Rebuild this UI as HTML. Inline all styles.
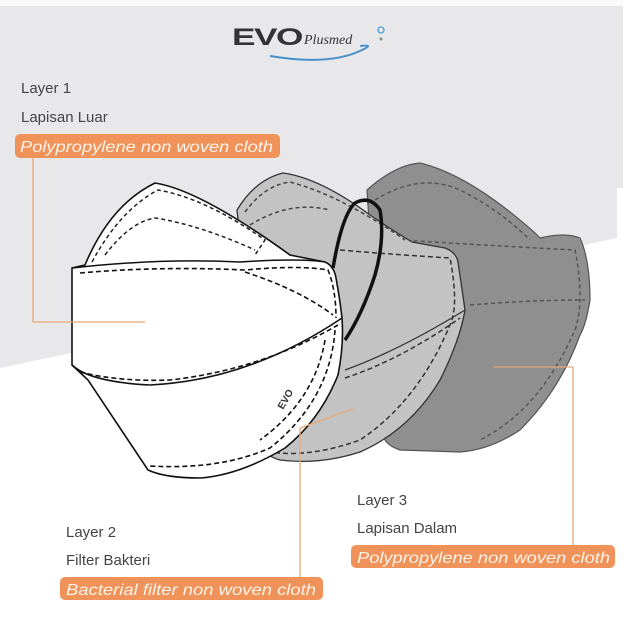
<!DOCTYPE html>
<html><head><meta charset="utf-8"><style>
html,body{margin:0;padding:0;background:#fff;}
svg{display:block;}
text{font-family:"Liberation Sans",sans-serif;}
</style></head><body>
<svg width="623" height="640" viewBox="0 0 623 640" xmlns="http://www.w3.org/2000/svg">
<rect width="623" height="640" fill="#ffffff"/>
<polygon points="0,0 623,0 623,188 617,188 617,238 0,368" fill="#e8e8ea"/>
<rect x="0" y="0" width="623" height="6" fill="#fafafa"/>

<!-- logo -->
<text x="232" y="45" font-size="24" font-weight="bold" fill="#333" letter-spacing="-1" textLength="70" lengthAdjust="spacingAndGlyphs">EVO</text>
<text x="304" y="44" font-size="14" font-style="italic" fill="#333" style="font-family:'Liberation Serif',serif">Plusmed</text>
<circle cx="381" cy="30" r="3" fill="none" stroke="#4aa0d8" stroke-width="1.3"/>
<circle cx="381" cy="39" r="1.5" fill="#888"/>
<path d="M270 56 Q330 66 362 50 Q375 44 360 46" fill="none" stroke="#4a90c8" stroke-width="2"/>

<!-- back dark mask -->
<path d="M367 190 Q395 165 420 163 Q470 175 535 233 L540 238 Q565 232 580 238 Q590 260 590 300 Q586 325 580 335 Q560 390 520 430 Q490 450 460 452 L400 450 Q385 445 383 435 Z" fill="#8f8f8f" stroke="#555" stroke-width="1.2"/>
<path d="M375 200 Q420 172 460 190 Q500 210 530 240" fill="none" stroke="#555" stroke-width="1.5" stroke-dasharray="4,3"/>
<path d="M400 240 Q480 245 575 250 Q585 300 575 330 Q540 410 480 440" fill="none" stroke="#555" stroke-width="1.5" stroke-dasharray="4,3"/>
<path d="M470 305 Q530 300 585 300" fill="none" stroke="#555" stroke-width="1.5" stroke-dasharray="4,3"/>

<!-- middle mask -->
<path d="M237 210 Q255 180 283 173 Q320 178 370 215 Q395 232 412 242 L445 248 Q456 252 458 262 Q462 290 465 310 Q460 340 440 380 Q410 430 360 452 Q320 465 280 460 Q265 456 262 445 Z" fill="#c3c3c3" stroke="#333" stroke-width="1.3"/>
<path d="M245 212 Q265 185 290 182 Q340 195 405 240" fill="none" stroke="#444" stroke-width="1.5" stroke-dasharray="4,3"/>
<path d="M250 225 Q290 200 330 210" fill="none" stroke="#444" stroke-width="1.5" stroke-dasharray="4,3"/>
<path d="M340 250 Q400 255 450 258 Q458 300 452 320 Q420 400 360 440 Q310 458 270 452" fill="none" stroke="#333" stroke-width="1.5" stroke-dasharray="5,3"/>
<path d="M345 370 Q400 350 465 310" fill="none" stroke="#333" stroke-width="1.3"/>
<path d="M345 378 Q400 360 460 318" fill="none" stroke="#333" stroke-width="1.5" stroke-dasharray="5,3"/>

<!-- earloop -->
<path d="M333 268 Q342 215 355 203 Q370 195 380 210 Q385 240 375 275 Q362 315 345 340" fill="none" stroke="#111" stroke-width="3.5"/>

<!-- front white mask -->
<path d="M85 265 Q110 205 155 183 Q200 190 290 255 L325 262 Q334 266 336 278 Q340 300 342 318 Q344 345 338 375 Q320 420 285 448 Q240 475 200 478 Q165 478 148 470 L88 380 L72 365 L72 268 Z" fill="#ffffff" stroke="#111" stroke-width="1.6"/>
<path d="M92 262 Q120 210 158 190 Q205 198 265 240 L255 255" fill="none" stroke="#222" stroke-width="1.5" stroke-dasharray="4,3"/>
<path d="M105 255 Q130 222 155 218 Q200 225 255 250" fill="none" stroke="#222" stroke-width="1.5" stroke-dasharray="4,3"/>
<path d="M72 268 Q160 258 240 262 Q300 258 325 262" fill="none" stroke="#111" stroke-width="1.5"/>
<path d="M80 273 Q160 266 245 270 Q300 265 328 270 Q336 290 336 318" fill="none" stroke="#111" stroke-width="1.6" stroke-dasharray="5,3"/>
<path d="M245 272 Q300 290 333 315" fill="none" stroke="#111" stroke-width="1.6" stroke-dasharray="5,3"/>
<path d="M72 365 Q90 382 150 385 Q250 380 342 318" fill="none" stroke="#111" stroke-width="1.6"/>
<path d="M80 372 Q120 382 170 380 Q260 370 338 325" fill="none" stroke="#111" stroke-width="1.6" stroke-dasharray="5,3"/>
<path d="M335 330 Q330 400 270 448 Q220 470 150 466" fill="none" stroke="#111" stroke-width="1.6" stroke-dasharray="5,3"/>
<path d="M325 340 Q315 400 260 440" fill="none" stroke="#111" stroke-width="1.6" stroke-dasharray="5,3"/>
<text x="0" y="0" font-size="10" font-weight="bold" fill="#333" transform="translate(283,410) rotate(-60)">EVO</text>

<!-- connector lines -->
<polyline points="33,158 33,322 145,322" fill="none" stroke="#e8a878" stroke-width="1.3"/>
<polyline points="300,590 300,428 353,409" fill="none" stroke="#e8a878" stroke-width="1.3"/>
<polyline points="573,545 573,367 494,367" fill="none" stroke="#e8a878" stroke-width="1.3"/>

<!-- labels -->
<g fill="#444" font-size="15">
<text x="21" y="93">Layer 1</text>
<text x="21" y="122">Lapisan Luar</text>
<text x="66" y="537">Layer 2</text>
<text x="66" y="565">Filter Bakteri</text>
<text x="357" y="505">Layer 3</text>
<text x="357" y="533">Lapisan Dalam</text>
</g>
<rect x="15" y="134" width="265" height="24" rx="5" fill="#f0935a"/>
<rect x="60" y="577" width="263" height="23" rx="5" fill="#f0935a"/>
<rect x="351" y="545" width="264" height="23" rx="5" fill="#f0935a"/>
<g fill="#fff3e8" font-size="16" font-style="italic">
<text x="20" y="152" textLength="253" lengthAdjust="spacingAndGlyphs">Polypropylene non woven cloth</text>
<text x="66" y="595" textLength="250" lengthAdjust="spacingAndGlyphs">Bacterial filter non woven cloth</text>
<text x="357" y="563" textLength="253" lengthAdjust="spacingAndGlyphs">Polypropylene non woven cloth</text>
</g>
</svg>
</body></html>
